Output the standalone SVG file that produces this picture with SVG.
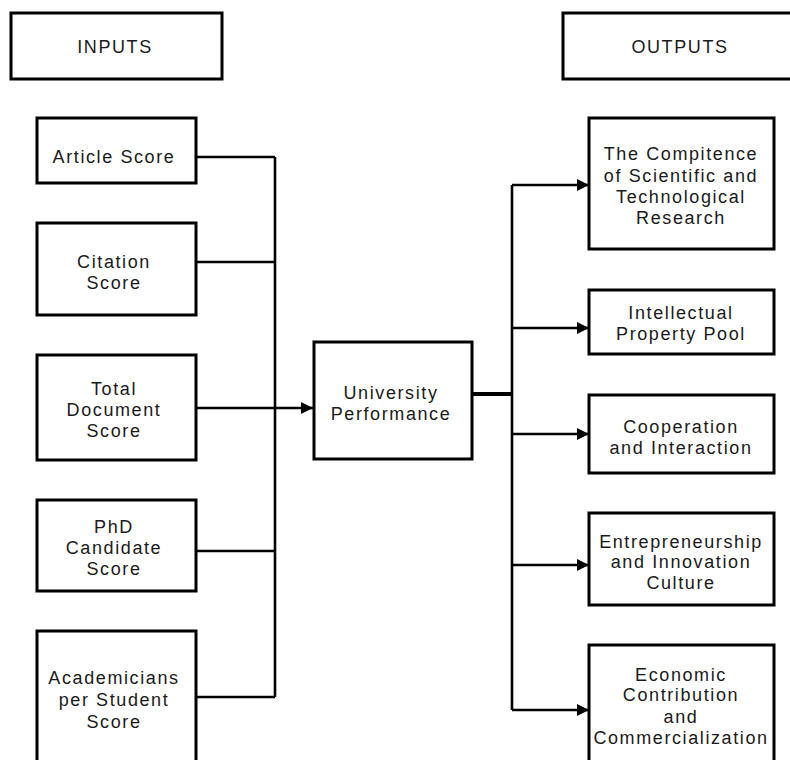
<svg xmlns="http://www.w3.org/2000/svg" width="790" height="760" viewBox="0 0 790 760">
  <style>
    .box { fill: #ffffff; stroke: #000000; stroke-width: 3; }
    .wire { fill: none; stroke: #000000; stroke-width: 2.6; }
    .trunk { fill: none; stroke: #000000; stroke-width: 4; }
    .label { font-family: "Liberation Sans", Arial, sans-serif; font-size: 18px; letter-spacing: 1.6px; fill: #1a1a1a; text-anchor: middle; }
  </style>
  <defs>
    <marker id="arrow" viewBox="0 0 12 12" refX="12" refY="6" markerWidth="12" markerHeight="12" markerUnits="userSpaceOnUse" orient="auto">
      <path d="M0,0 L12,6 L0,12 Z" fill="#000000"/>
    </marker>
  </defs>

  <rect width="790" height="760" fill="#ffffff"/>

  <!-- section headers -->
  <g id="inputs-header">
    <rect class="box" x="11" y="13" width="211" height="66"/>
    <text class="label" x="115" y="53">INPUTS</text>
  </g>
  <g id="outputs-header">
    <rect class="box" x="563" y="13" width="240" height="66"/>
    <text class="label" x="680" y="53">OUTPUTS</text>
  </g>

  <!-- connectors -->
  <g id="connectors">
    <!-- inputs merge into one bus -->
    <path class="wire" d="M196,157 H275 M196,262 H275 M196,551 H275 M196,697 H275 M275,157 V697"/>
    <path class="wire" d="M196,408 H313" marker-end="url(#arrow)"/>
    <!-- performance fans out to outputs -->
    <path class="trunk" d="M472,394 H512"/>
    <path class="wire" d="M512,185 V710"/>
    <path class="wire" d="M512,185 H589" marker-end="url(#arrow)"/>
    <path class="wire" d="M512,328 H589" marker-end="url(#arrow)"/>
    <path class="wire" d="M512,434 H589" marker-end="url(#arrow)"/>
    <path class="wire" d="M512,565 H589" marker-end="url(#arrow)"/>
    <path class="wire" d="M512,710 H589" marker-end="url(#arrow)"/>
  </g>

  <!-- input nodes -->
  <g id="article-score">
    <rect class="box" x="37" y="118" width="159" height="65"/>
    <text class="label" x="114" y="163">Article Score</text>
  </g>
  <g id="citation-score">
    <rect class="box" x="37" y="223" width="159" height="92"/>
    <text class="label" x="114" y="268">Citation</text>
    <text class="label" x="114" y="289">Score</text>
  </g>
  <g id="total-document-score">
    <rect class="box" x="37" y="355" width="159" height="105"/>
    <text class="label" x="114" y="395">Total</text>
    <text class="label" x="114" y="416">Document</text>
    <text class="label" x="114" y="437">Score</text>
  </g>
  <g id="phd-candidate-score">
    <rect class="box" x="37" y="500" width="159" height="91"/>
    <text class="label" x="114" y="533">PhD</text>
    <text class="label" x="114" y="554">Candidate</text>
    <text class="label" x="114" y="575">Score</text>
  </g>
  <g id="academicians-score">
    <rect class="box" x="37" y="631" width="159" height="150"/>
    <text class="label" x="114" y="684">Academicians</text>
    <text class="label" x="114" y="706">per Student</text>
    <text class="label" x="114" y="728">Score</text>
  </g>

  <!-- central node -->
  <g id="university-performance">
    <rect class="box" x="314" y="342" width="158" height="117"/>
    <text class="label" x="391" y="399">University</text>
    <text class="label" x="391" y="420">Performance</text>
  </g>

  <!-- output nodes -->
  <g id="research-competence">
    <rect class="box" x="589" y="118" width="185" height="131"/>
    <text class="label" x="681" y="160">The Compitence</text>
    <text class="label" x="681" y="182">of Scientific and</text>
    <text class="label" x="681" y="203">Technological</text>
    <text class="label" x="681" y="224">Research</text>
  </g>
  <g id="intellectual-property">
    <rect class="box" x="589" y="290" width="185" height="64"/>
    <text class="label" x="681" y="319">Intellectual</text>
    <text class="label" x="681" y="340">Property Pool</text>
  </g>
  <g id="cooperation">
    <rect class="box" x="589" y="395" width="185" height="78"/>
    <text class="label" x="681" y="433">Cooperation</text>
    <text class="label" x="681" y="454">and Interaction</text>
  </g>
  <g id="entrepreneurship">
    <rect class="box" x="589" y="513" width="185" height="92"/>
    <text class="label" x="681" y="548">Entrepreneurship</text>
    <text class="label" x="681" y="568">and Innovation</text>
    <text class="label" x="681" y="589">Culture</text>
  </g>
  <g id="economic-contribution">
    <rect class="box" x="589" y="645" width="185" height="140"/>
    <text class="label" x="681" y="681">Economic</text>
    <text class="label" x="681" y="701">Contribution</text>
    <text class="label" x="681" y="723">and</text>
    <text class="label" x="681" y="744">Commercialization</text>
  </g>
</svg>
